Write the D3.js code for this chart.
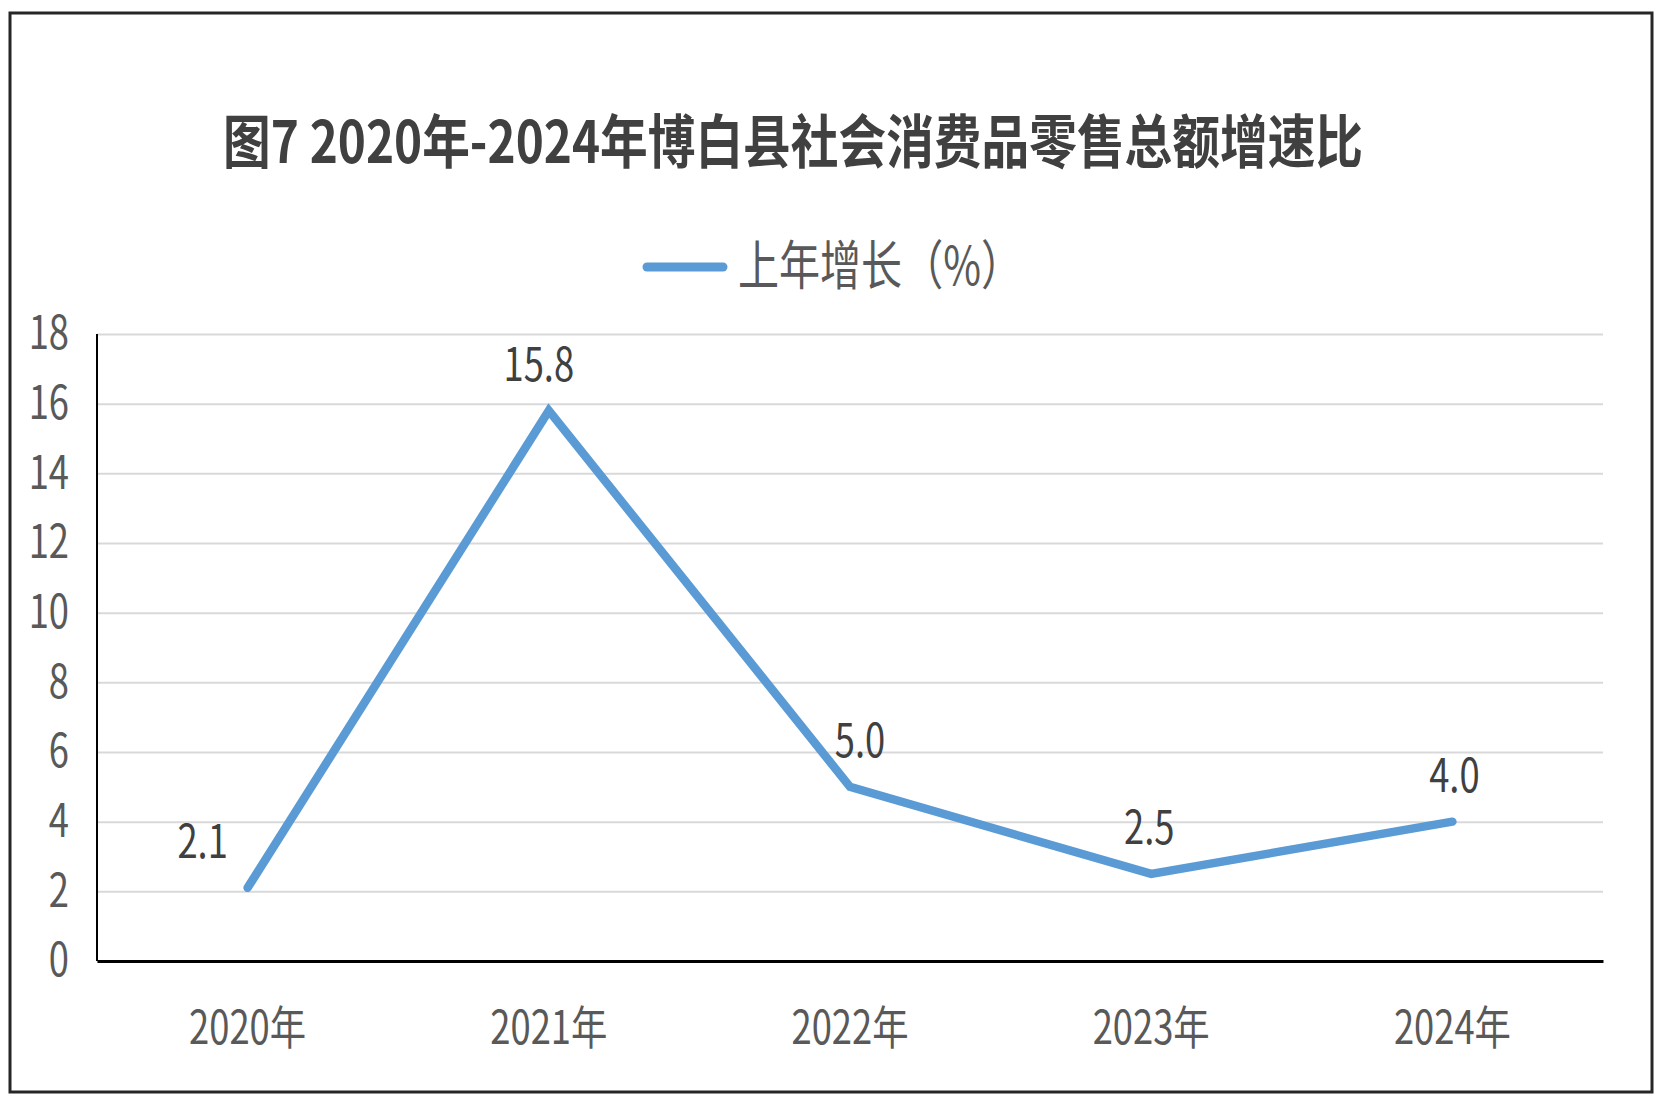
<!DOCTYPE html>
<html lang="zh">
	<head>
		<meta charset="utf-8">
		<title>博白县社会消费品零售总额增速</title>
		<script type="text/javascript" src="https://d3js.org/d3.v7.min.js"></script>
		<style>
			body { margin:0; background:#fff; }
			text { font-family:"Noto Sans CJK SC","Noto Sans",sans-serif; }
		</style>
	</head>
	<body>
		<svg id="chart"></svg>
		<script>
			// data
			var years = ["2020年","2021年","2022年","2023年","2024年"];
			var growth = [2.1, 15.8, 5.0, 2.5, 4.0];
			var yTicks = [0,2,4,6,8,10,12,14,16,18];
			var title = "图7 2020年-2024年博白县社会消费品零售总额增速比";
			var seriesName = "上年增长（%）";

			var width = 1669;
			var height = 1110;
			var plot = {left:97, right:1603, top:334, bottom:961};
			var blue = "#5b9bd5";
			var squeezeK = 0.79; // the fonts in the picture are narrow

			// small nudges so labels sit like in the picture (layout, not data)
			var labelDx = [-45, -10, 10, -2, 2];

			var svg = d3.select("#chart")
				.attr("width", width)
				.attr("height", height);

			// squeeze text horizontally by factor k
			function squeeze(s, k) {
				s.each(function(){
					var w = this.getComputedTextLength();
					d3.select(this)
						.attr("textLength", w*k)
						.attr("lengthAdjust","spacingAndGlyphs");
				});
				return s;
			}

			// frame
			svg.append("rect")
				.attr("x",10).attr("y",13)
				.attr("width",1642).attr("height",1079)
				.attr("fill","none")
				.attr("stroke","#262626")
				.attr("stroke-width",3);

			var x = d3.scaleBand()
				.domain(years)
				.range([plot.left, plot.right]);

			var y = d3.scaleLinear()
				.domain([0,18])
				.range([plot.bottom, plot.top]);

			// title
			svg.append("text")
				.attr("x",793).attr("y",163)
				.attr("text-anchor","middle")
				.attr("font-size",58)
				.attr("font-weight","bold")
				.attr("fill","#404040")
				.attr("textLength",1140)
				.attr("lengthAdjust","spacingAndGlyphs")
				.text(title);

			// legend
			svg.append("line")
				.attr("x1",647).attr("x2",723)
				.attr("y1",267).attr("y2",267)
				.attr("stroke",blue)
				.attr("stroke-width",9)
				.attr("stroke-linecap","round");
			svg.append("text")
				.attr("x",738).attr("y",285)
				.attr("font-size",53)
				.attr("fill","#595959")
				.attr("textLength",284)
				.attr("lengthAdjust","spacingAndGlyphs")
				.text(seriesName);

			// y axis with gridlines
			var yAxis = svg.append("g")
				.attr("transform","translate("+plot.left+",0)")
				.call(d3.axisLeft(y)
					.tickValues(yTicks)
					.tickSize(-(plot.right-plot.left))
					.tickPadding(28));
			yAxis.select(".domain").remove();
			yAxis.selectAll(".tick line")
				.attr("stroke","#d9d9d9")
				.attr("stroke-width",2);
			yAxis.selectAll(".tick text")
				.attr("font-size",46)
				.attr("fill","#595959")
				.call(squeeze, squeezeK);

			svg.append("line")
				.attr("x1",plot.left).attr("x2",plot.left)
				.attr("y1",y(18)).attr("y2",y(0))
				.attr("stroke","#000")
				.attr("stroke-width",2);

			// x axis
			var xAxis = svg.append("g")
				.attr("transform","translate(0,"+plot.bottom+")")
				.call(d3.axisBottom(x).tickSize(0).tickPadding(50));
			xAxis.select(".domain")
				.attr("stroke","#000")
				.attr("stroke-width",3);
			xAxis.selectAll(".tick text")
				.attr("font-size",46)
				.attr("fill","#595959")
				.call(squeeze, squeezeK);

			// the line
			var line = d3.line()
				.x((d,i)=>x(years[i])+x.bandwidth()/2)
				.y(d=>y(d));

			svg.append("path")
				.datum(growth)
				.attr("d",line)
				.attr("fill","none")
				.attr("stroke",blue)
				.attr("stroke-width",8.5)
				.attr("stroke-linejoin","miter")
				.attr("stroke-linecap","round");

			// value labels
			svg.selectAll(".val")
				.data(growth)
				.enter()
				.append("text")
				.attr("class","val")
				.attr("x",(d,i)=>x(years[i])+x.bandwidth()/2+labelDx[i])
				.attr("y",d=>y(d)-30)
				.attr("text-anchor","middle")
				.attr("font-size",46)
				.attr("fill","#404040")
				.text(d=>d.toFixed(1))
				.call(squeeze, squeezeK);
		</script>
	</body>
</html>
